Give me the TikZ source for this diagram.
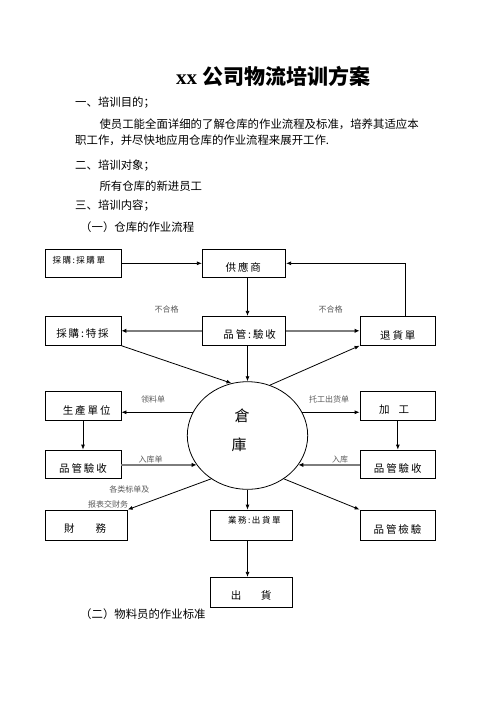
\documentclass[tikz,border=0pt]{standalone}
\usepackage{fontspec}
\setmainfont{Liberation Serif}
\newfontfamily\cjk{Noto Sans CJK SC}
\newfontfamily\cjkw[LetterSpace=18]{Noto Sans CJK SC}
\usetikzlibrary{arrows.meta,shapes.geometric}
\definecolor{lblgray}{RGB}{90,90,90}
\definecolor{arrgray}{RGB}{125,125,125}
\begin{document}
\begin{tikzpicture}[x=1pt,y=-1pt,
  box/.style={draw,line width=0.8pt,inner sep=0pt},
  blbl/.style={inner sep=0pt,font=\cjkw\fontsize{10.5}{12}\selectfont},
  slbl/.style={inner sep=0pt,font=\cjkw\fontsize{8.5}{10}\selectfont},
  elbl/.style={inner sep=0pt,text=lblgray,font=\cjk\fontsize{8}{9}\selectfont},
  body/.style={inner sep=0pt,anchor=west,font=\cjk\fontsize{11.4}{13}\selectfont},
  arr/.style={line width=0.8pt,-{Latex[length=5pt,width=4pt]}},
  garr/.style={line width=2pt,draw=arrgray,-{Latex[length=5pt,width=4.5pt,color=black]}}
]
\useasboundingbox[fill=white] (0,0) rectangle (496,702);

% title and body text
\node[inner sep=0pt] (title) at (273.3,76.7) {\fontsize{21}{24}\selectfont\bfseries xx {\cjk 公司物流培训方案}};
\node[body] (t1) at (75,102.3) {一、培训目的；};
\node[body] (t2) at (99.3,124) {使员工能全面详细的了解仓库的作业流程及标准，培养其适应本};
\node[body] (t3) at (75,140.7) {职工作，并尽快地应用仓库的作业流程来展开工作.};
\node[body] (t4) at (75,165.7) {二、培训对象；};
\node[body] (t5) at (99.3,185.7) {所有仓库的新进员工};
\node[body] (t6) at (75,205.7) {三、培训内容；};
\node[body] (t7) at (80,226.7) {（一）仓库的作业流程};
\node[body] (t8) at (80,614.3) {（二）物料员的作业标准};

% boxes
\node[box,minimum width=76pt,minimum height=28pt] (cg) at (83,263.3) {};
\node[box,minimum width=83.4pt,minimum height=28pt] (gy) at (244,263.3) {};
\node[box,minimum width=76pt,minimum height=29pt] (tc) at (83,330.8) {};
\node[box,minimum width=83.4pt,minimum height=29pt] (pg) at (244,330.8) {};
\node[box,minimum width=75.7pt,minimum height=29pt] (th) at (397.85,330.8) {};
\node[box,minimum width=76pt,minimum height=29pt] (sc) at (83,405.8) {};
\node[box,minimum width=75.7pt,minimum height=29pt] (jg) at (397.85,405.8) {};
\node[box,minimum width=76pt,minimum height=28.3pt] (ql) at (83,464.15) {};
\node[box,minimum width=75.7pt,minimum height=28.3pt] (qr) at (397.85,464.15) {};
\node[box,minimum width=82.3pt,minimum height=30.3pt] (cw) at (86.15,525.15) {};
\node[box,minimum width=82pt,minimum height=30pt] (yw) at (251.3,525) {};
\node[box,minimum width=75.7pt,minimum height=30pt] (qj) at (397.85,525) {};
\node[box,minimum width=82pt,minimum height=29.7pt] (ch) at (251.3,592.15) {};
\node[draw,line width=0.8pt,ellipse,minimum width=120.4pt,minimum height=107.6pt,inner sep=0pt] (c) at (247.5,435.5) {};

% box texts
\node[slbl,anchor=west] (cgt) at (52.3,260) {採購:採購單};
\node[blbl] (gyt) at (243.3,267) {供應商};
\node[blbl] (tct) at (82.5,334) {採購:特採};
\node[blbl] (pgt) at (249.7,334) {品管:驗收};
\node[blbl] (tht) at (397.8,335) {退貨單};
\node[blbl] (sct) at (86.7,410.7) {生產單位};
\node[inner sep=0pt,font=\cjk\fontsize{10.5}{12}\selectfont] (jgt) at (394,410) {加\hspace{9pt}工};
\node[blbl] (qlt) at (83,468.3) {品管驗收};
\node[blbl] (qrt) at (397.8,468.3) {品管驗收};
\node[inner sep=0pt,font=\cjk\fontsize{10.5}{12}\selectfont] (cwt) at (85,529) {財\hspace{21pt}務};
\node[slbl] (ywt) at (254.3,520.7) {業務:出貨單};
\node[blbl] (qjt) at (397.5,529) {品管檢驗};
\node[inner sep=0pt,font=\cjk\fontsize{10.5}{12}\selectfont] (cht) at (251,595.7) {出\hspace{19.5pt}貨};
\node[inner sep=0pt,font=\cjk\fontsize{15}{16}\selectfont] (ck1) at (242,415.7) {倉};
\node[inner sep=0pt,font=\cjk\fontsize{15}{16}\selectfont] (ck2) at (239,445) {庫};

% edge labels
\node[elbl] (l1) at (166.7,309) {不合格};
\node[elbl] (l2) at (330.7,309) {不合格};
\node[elbl] (l3) at (153,399) {领料单};
\node[elbl] (l4) at (329,399) {托工出货单};
\node[elbl] (l5) at (150.7,459) {入库单};
\node[elbl] (l6) at (340,459) {入库};
\node[elbl] (l7) at (129.3,489) {各类标单及};
\node[elbl] (l8) at (108,504.3) {报表交财务};

% connectors
\draw[arr] (cg.east) -- (gy.west);
\draw[arr] ([xshift=7.85pt]th.north) |- (gy.east);
\draw[arr] (c.north |- gy.south) -- (c.north |- pg.north);
\draw[garr] (pg.west) -- (tc.east);
\draw[garr] (pg.east) -- (th.west);
\draw[arr] (tc.south east) -- (c.107);
\draw[arr] (c.north |- pg.south) -- (c.north);
\draw[arr] (c.66) -- (th.south west);
\draw[arr] (c.157) -- (c.157 -| sc.east);
\draw[arr] (c.23) -- (c.23 -| jg.west);
\draw[arr] (sc.south) -- (ql.north);
\draw[arr] (jg.south) -- (qr.north);
\draw[garr] (c.210 -| ql.east) -- (c.210);
\draw[garr] (c.330 -| qr.west) -- (c.330);
\draw[arr] (c.230) -- (cw.north east);
\draw[arr] (c.south) -- (c.south |- yw.north);
\draw[arr] (c.310) -- (qj.north west);
\draw[arr] (c.south |- yw.south) -- (c.south |- ch.north);
\end{tikzpicture}
\end{document}
